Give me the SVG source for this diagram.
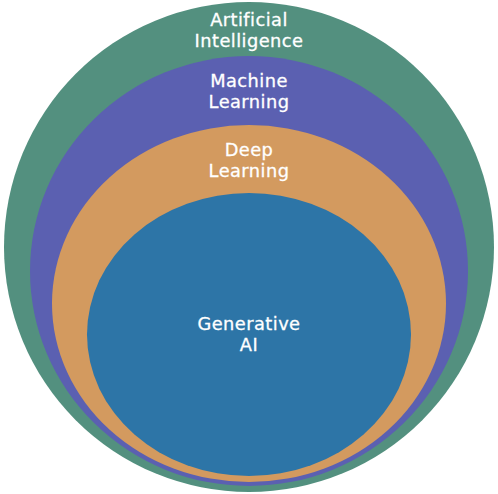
<svg xmlns="http://www.w3.org/2000/svg" width="498" height="494" viewBox="0 0 498 494">
  <style>
    .lbl { font-family: "DejaVu Sans", "Open Sans", sans-serif; font-size: 17.8px; letter-spacing: 0.45px; fill: #ffffff; stroke: #ffffff; stroke-width: 0.3px; text-anchor: middle; }
  </style>
  <rect width="498" height="494" fill="#ffffff"/>
  <g id="artificial-intelligence">
    <circle cx="249" cy="247" r="245" fill="#53907F"/>
    <text class="lbl" x="249" y="26">Artificial</text>
    <text class="lbl" x="249" y="47.2">Intelligence</text>
  </g>
  <g id="machine-learning">
    <ellipse cx="249" cy="271" rx="219" ry="215" fill="#5B60B1"/>
    <text class="lbl" x="249" y="87.2">Machine</text>
    <text class="lbl" x="249" y="108.4">Learning</text>
  </g>
  <g id="deep-learning">
    <ellipse cx="249" cy="303.5" rx="197" ry="178.5" fill="#D39A5F"/>
    <text class="lbl" x="249" y="156.2">Deep</text>
    <text class="lbl" x="249" y="177.4">Learning</text>
  </g>
  <g id="generative-ai">
    <ellipse cx="249" cy="334.5" rx="162" ry="141.5" fill="#2D75A7"/>
    <text class="lbl" x="249" y="330">Generative</text>
    <text class="lbl" x="249" y="351.2">AI</text>
  </g>
</svg>
